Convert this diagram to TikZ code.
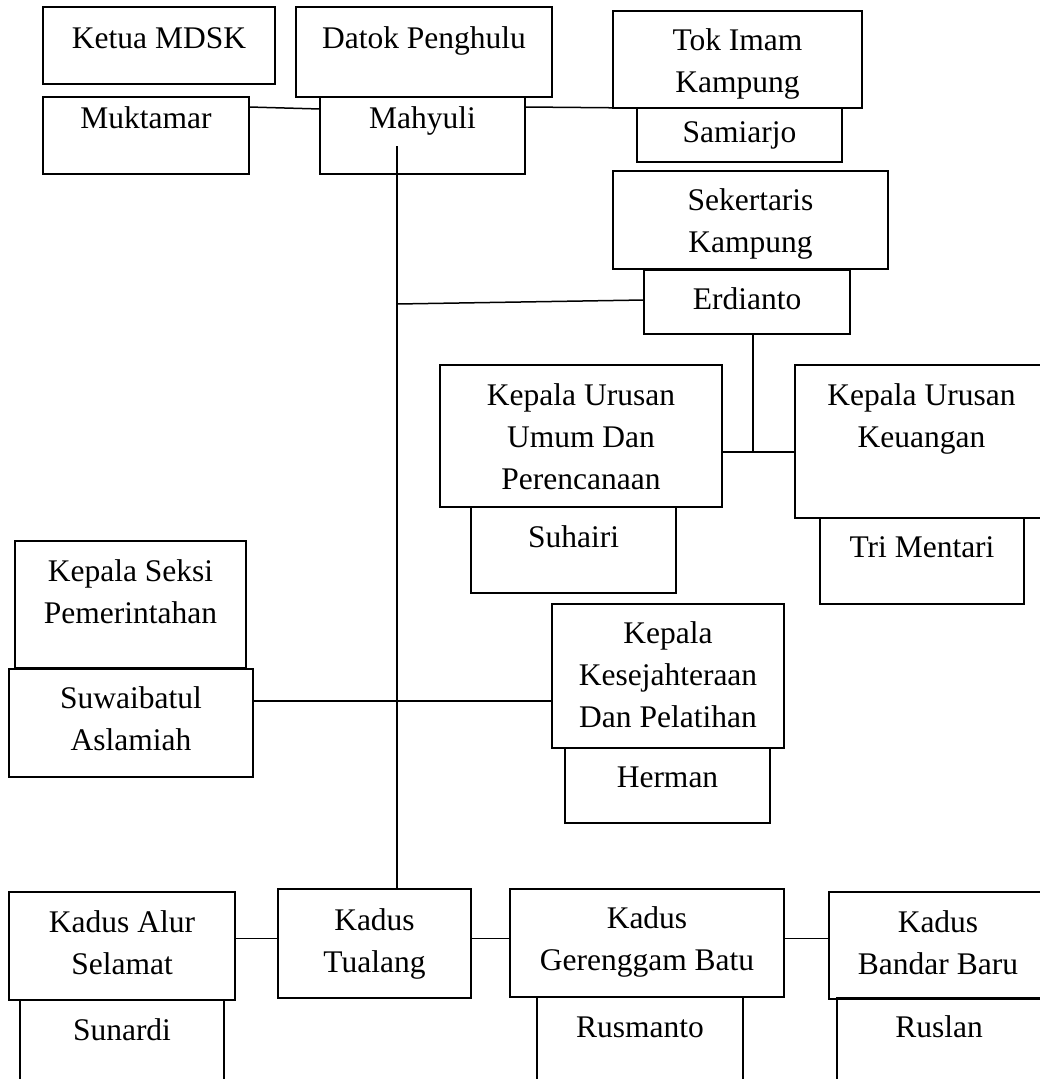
\documentclass[tikz,border=0pt]{standalone}
\usepackage{fontspec}
\setmainfont{Liberation Serif}
\usetikzlibrary{calc}
\tikzset{
  orgbox/.style={draw, line width=1.6pt, inner sep=0pt, outer sep=0pt, anchor=north west,
    font=\fontsize{31.5}{42}\selectfont},
  link/.style={line width=1.5pt},
}
% name, x, y(top), width, height, first-baseline offset, text
\newcommand\obox[7]{\node[orgbox] (#1) at (#2,#3)
  {\parbox[t][#5pt][t]{#4pt}{\centering\vspace*{\dimexpr#6pt-30pt\relax}\rule{0pt}{30pt}#7\par}};}
\begin{document}
\begin{tikzpicture}[x=1pt,y=-1pt]
\useasboundingbox (0,0) rectangle (1040,1079);
\clip (0,0) rectangle (1040,1079);
\obox{ketua}{43}{7}{232}{77}{41}{Ketua MDSK}
\obox{datok}{296}{7}{256}{90}{41}{Datok Penghulu}
\obox{muktamar}{43}{97}{206}{77}{31}{Muktamar}
\obox{mahyuli}{320}{97}{205}{77}{31}{Mahyuli}
\obox{tokimam}{613}{11}{249}{97}{39}{Tok Imam\\Kampung}
\obox{samiarjo}{637}{108}{205}{54}{34}{Samiarjo}
\obox{sekertaris}{613}{171}{275}{98}{39}{Sekertaris\\Kampung}
\obox{erdianto}{644}{270}{206}{64}{39}{Erdianto}
\obox{kuu}{440}{365}{282}{142}{40}{Kepala Urusan\\Umum Dan\\Perencanaan}
\obox{suhairi}{471}{507}{205}{86}{40}{Suhairi}
\obox{kuk}{795}{365}{253}{153}{40}{Kepala Urusan\\Keuangan}
\obox{tri}{820}{518}{204}{86}{39}{Tri Mentari}
\obox{seksi}{15}{541}{231}{127}{40}{Kepala Seksi\\Pemerintahan}
\obox{suwaibatul}{9}{669}{244}{108}{39}{Suwaibatul\\Aslamiah}
\obox{kesejahteraan}{552}{604}{232}{144}{39}{Kepala\\Kesejahteraan\\Dan Pelatihan}
\obox{herman}{565}{748}{205}{75}{39}{Herman}
\obox{alur}{9}{892}{226}{108}{40}{Kadus Alur\\Selamat}
\obox{sunardi}{20}{1000}{204}{120}{40}{Sunardi}
\obox{tualang}{278}{889}{193}{109}{41}{Kadus\\Tualang}
\obox{gerenggam}{510}{889}{274}{108}{39}{Kadus\\Gerenggam Batu}
\obox{rusmanto}{537}{997}{206}{120}{40}{Rusmanto}
\obox{bandar}{829}{892}{218}{107}{40}{Kadus\\Bandar Baru}
\obox{ruslan}{837}{998}{204}{120}{39}{Ruslan}
% connectors
\draw[link] ($(muktamar.north east)+(0,10)$) -- ($(mahyuli.north west)+(0,12)$);
\draw[link] ($(mahyuli.north east)+(0,10)$) -- (samiarjo.north west);
\coordinate (t0) at (397,146);
\draw[link] (t0) -- (t0 |- tualang.north);
\coordinate (j1) at (397,304);
\draw[link] (j1) -- ($(erdianto.north west)+(0,30)$);
\coordinate (j2) at (753,452);
\draw[link] (erdianto.south -| j2) -- (j2);
\draw[link] (kuu.east |- j2) -- (kuk.west |- j2);
\coordinate (j3) at (397,701);
\draw[link] (suwaibatul.east |- j3) -- (j3) -- (kesejahteraan.west |- j3);
\coordinate (j4) at (0,938.5);
\draw[link] (alur.east |- j4) -- (tualang.west |- j4);
\draw[link] (tualang.east |- j4) -- (gerenggam.west |- j4);
\draw[link] (gerenggam.east |- j4) -- (bandar.west |- j4);
\end{tikzpicture}
\end{document}
